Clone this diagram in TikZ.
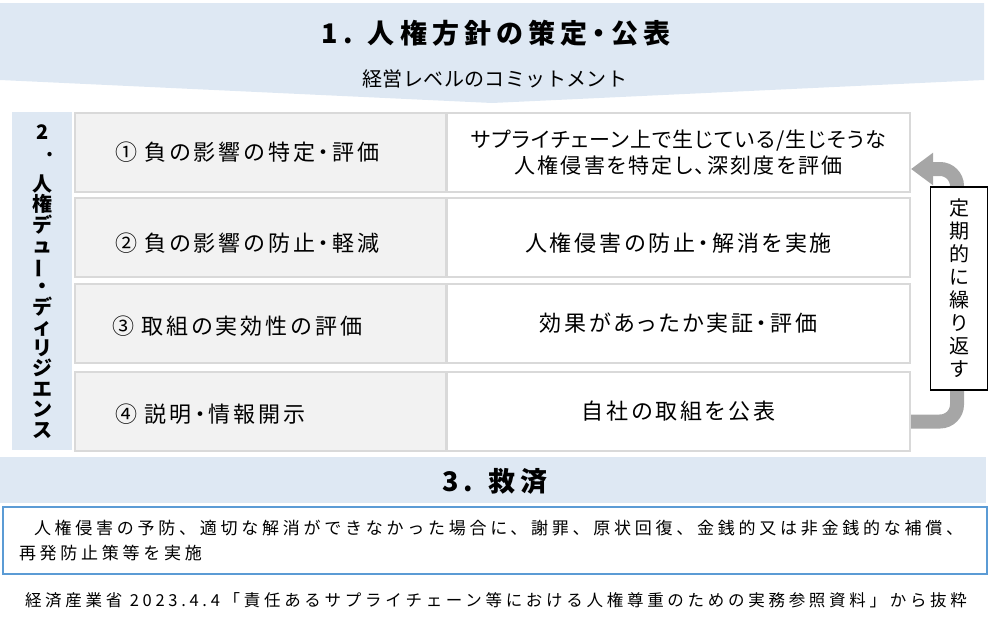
\documentclass[tikz,border=0pt]{standalone}
\usepackage{fontspec}
\setmainfont{Noto Sans CJK JP}
\newfontfamily\jpp{Noto Sans CJK JP}[RawFeature=+palt]
\usetikzlibrary{arrows.meta}
\definecolor{bandblue}{HTML}{DEE8F3}
\definecolor{rowgray}{HTML}{F2F2F2}
\definecolor{rowline}{HTML}{D9D9D9}
\definecolor{boxblue}{HTML}{5B9BD5}
\definecolor{loopgray}{HTML}{A6A6A6}
\tikzset{
  bigtitle/.style={font=\jpp\fontsize{27}{30}\selectfont\bfseries\addfontfeature{LetterSpace=19}},
  subtitle/.style={font=\fontsize{20}{24}\selectfont\addfontfeature{LetterSpace=2}},
  onetext/.style={text height=18.8pt, text depth=2pt},
  lbox/.style={anchor=north west, draw=rowline, fill=rowgray, line width=2pt, onetext,
    minimum height=79pt, inner xsep=40pt, inner ysep=0pt, text width=291pt, align=left,
    font=\jpp\fontsize{22}{26}\selectfont\addfontfeature{LetterSpace=14}},
  rbox/.style={anchor=north west, draw=rowline, fill=white, line width=2pt,
    minimum height=79pt, minimum width=463pt, inner sep=0pt, align=center,
    font=\jpp\fontsize{22}{26}\selectfont\addfontfeature{LetterSpace=13}},
  ddcol/.style={anchor=north west, fill=bandblue, minimum width=60pt, minimum height=338pt,
    inner sep=0pt, align=center, font=\fontsize{20}{20.5}\selectfont\bfseries},
  repbox/.style={draw=black, line width=1.2pt, fill=white, minimum width=57pt,
    minimum height=203pt, inner sep=0pt, align=center, font=\fontsize{20}{23}\selectfont},
  looparrow/.style={draw=loopgray, line width=14pt, rounded corners=17pt,
    -{Triangle[length=22pt,width=31pt]}},
  bandnode/.style={anchor=north west, fill=bandblue, minimum width=986pt, minimum height=46pt,
    inner sep=0pt},
  remedybox/.style={anchor=north west, draw=boxblue, line width=2pt, fill=white,
    minimum width=984pt, minimum height=67pt, inner xsep=16pt, inner ysep=0pt,
    text width=952pt, align=left,
    font=\fontsize{17}{25}\selectfont\addfontfeature{LetterSpace=22}},
  srcnote/.style={font=\fontsize{16.5}{20}\selectfont\addfontfeature{LetterSpace=22.5}}
}
\begin{document}
\begin{tikzpicture}[x=1pt,y=-1pt]
\useasboundingbox (0,0) rectangle (990,624);
% top banner
\fill[bandblue] (0,3) -- (984,3) -- (984,80) -- (492,103) -- (0,80) -- cycle;
\node[bigtitle] (title) at (496,33) {1. 人権方針の策定・公表};
\node[subtitle] (sub) at (495,79) {経営レベルのコミットメント};
% due diligence column
\node[ddcol] (dd) at (12,112) {2\\[-3pt]\makebox[0pt][l]{\hspace{4pt}.}\\[14pt]人\\権\\デ\\ュ\\\rotatebox[origin=c]{90}{ー}\\・\\デ\\ィ\\リ\\ジ\\エ\\ン\\ス};
% rows
\node[lbox] (l1) at (74,112) {① 負の影響の特定・評価};
\node[lbox] (l2) at (74,197) {\raisebox{-6pt}{② 負の影響の防止・軽減}};
\node[lbox] (l3) at (74,283) {\raisebox{-2.5pt}{\hspace*{-3pt}③ 取組の実効性の評価}};
\node[lbox] (l4) at (74,371) {\raisebox{-2.5pt}{④ 説明・情報開示}};
\node[rbox] (r1) at (446,112) {{\fontsize{21}{25}\selectfont\addfontfeature{LetterSpace=5.5}サプライチェーン上で生じている/生じそうな}\\
  {\fontsize{21}{25}\selectfont\addfontfeature{LetterSpace=10}人権侵害を特定し、深刻度を評価}};
\node[rbox, onetext] (r2) at (446,197) {\raisebox{-6pt}{人権侵害の防止・解消を実施}};
\node[rbox, onetext] (r3) at (446,283) {効果があったか実証・評価};
\node[rbox, onetext] (r4) at (446,371) {自社の取組を公表};
% repeat loop
\draw[looparrow] ([yshift=-10pt]r4.east) -| ([xshift=46pt,yshift=-16.5pt]r1.east) -- ([yshift=-16.5pt]r1.east);
\node[repbox] (rep) at (959,288.5) {定\\期\\的\\に\\繰\\り\\返\\す};
% remedy
\node[bandnode] (remedy) at (0,457) {};
\node[bigtitle] (remedytitle) at (495,481) {3. 救済};
\node[remedybox] (rbx) at (2,506) {\hspace*{15pt}人権侵害の予防、適切な解消ができなかった場合に、謝罪、原状回復、金銭的又は非金銭的な補償、\\再発防止策等を実施};
% source
\node[srcnote] (src) at (496,600) {経済産業省 2023.4.4「責任あるサプライチェーン等における人権尊重のための実務参照資料」から抜粋};
\end{tikzpicture}
\end{document}
